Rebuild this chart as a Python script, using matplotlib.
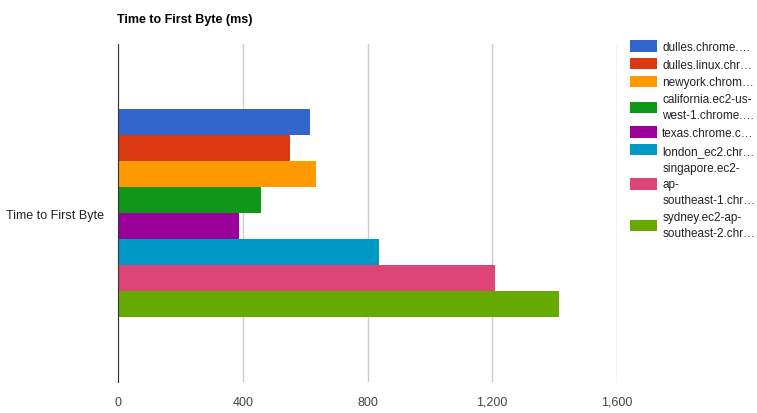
import matplotlib
matplotlib.use('Agg')
import matplotlib.pyplot as plt
from matplotlib.patches import Patch

plt.rcParams['font.family'] = ['Liberation Sans', 'DejaVu Sans']

labels = ['dulles.chrome.…', 'dulles.linux.chr…', 'newyork.chrom…',
          'california.ec2-us-\nwest-1.chrome.…', 'texas.chrome.c…',
          'london_ec2.chr…', 'singapore.ec2-\nap-\nsoutheast-1.chr…',
          'sydney.ec2-ap-\nsoutheast-2.chr…']
values = [614, 550, 635, 459, 389, 838, 1208, 1414]
colors = ['#3366cc', '#dc3912', '#ff9900', '#109618', '#990099',
          '#0099c6', '#dd4477', '#66aa00']
ticks = [0, 400, 800, 1200, 1600]

fig = plt.figure(figsize=(7.57, 4.14), dpi=100)
ax = fig.add_axes([0.156, 0.075, 0.659, 0.816])
ax.barh(range(len(values)), values, height=0.97, color=colors)
ax.set_ylim(10, -3)
ax.set_xlim(0, 1600)
ax.set_xticks(ticks)
ax.set_xticklabels(['0', '400', '800', '1,200', '1,600'], color='#444444', fontsize=9)
ax.set_yticks([3.5])
ax.set_yticklabels(['Time to First Byte'], color='#222222', fontsize=9)
ax.tick_params(length=0, pad=10)
ax.grid(axis='x', color='#cccccc', linewidth=1)
ax.set_axisbelow(True)
for s in ['top', 'right', 'bottom']:
    ax.spines[s].set_visible(False)
ax.spines['left'].set_color('#333333')

fig.text(0.155, 0.945, 'Time to First Byte (ms)', fontsize=9, fontweight='bold', color='#000000')

handles = [Patch(facecolor=c) for c in colors]
leg = fig.legend(handles, labels, loc='upper left', bbox_to_anchor=(0.832, 0.9),
                 frameon=False, fontsize=8.5, labelcolor='#222222', handlelength=2.3,
                 handleheight=1.1, handletextpad=0.45, labelspacing=0.42, borderaxespad=0,
                 borderpad=0)
for t in leg.get_texts():
    t.set_linespacing(1.45)

fig.savefig('out.png', dpi=100)
